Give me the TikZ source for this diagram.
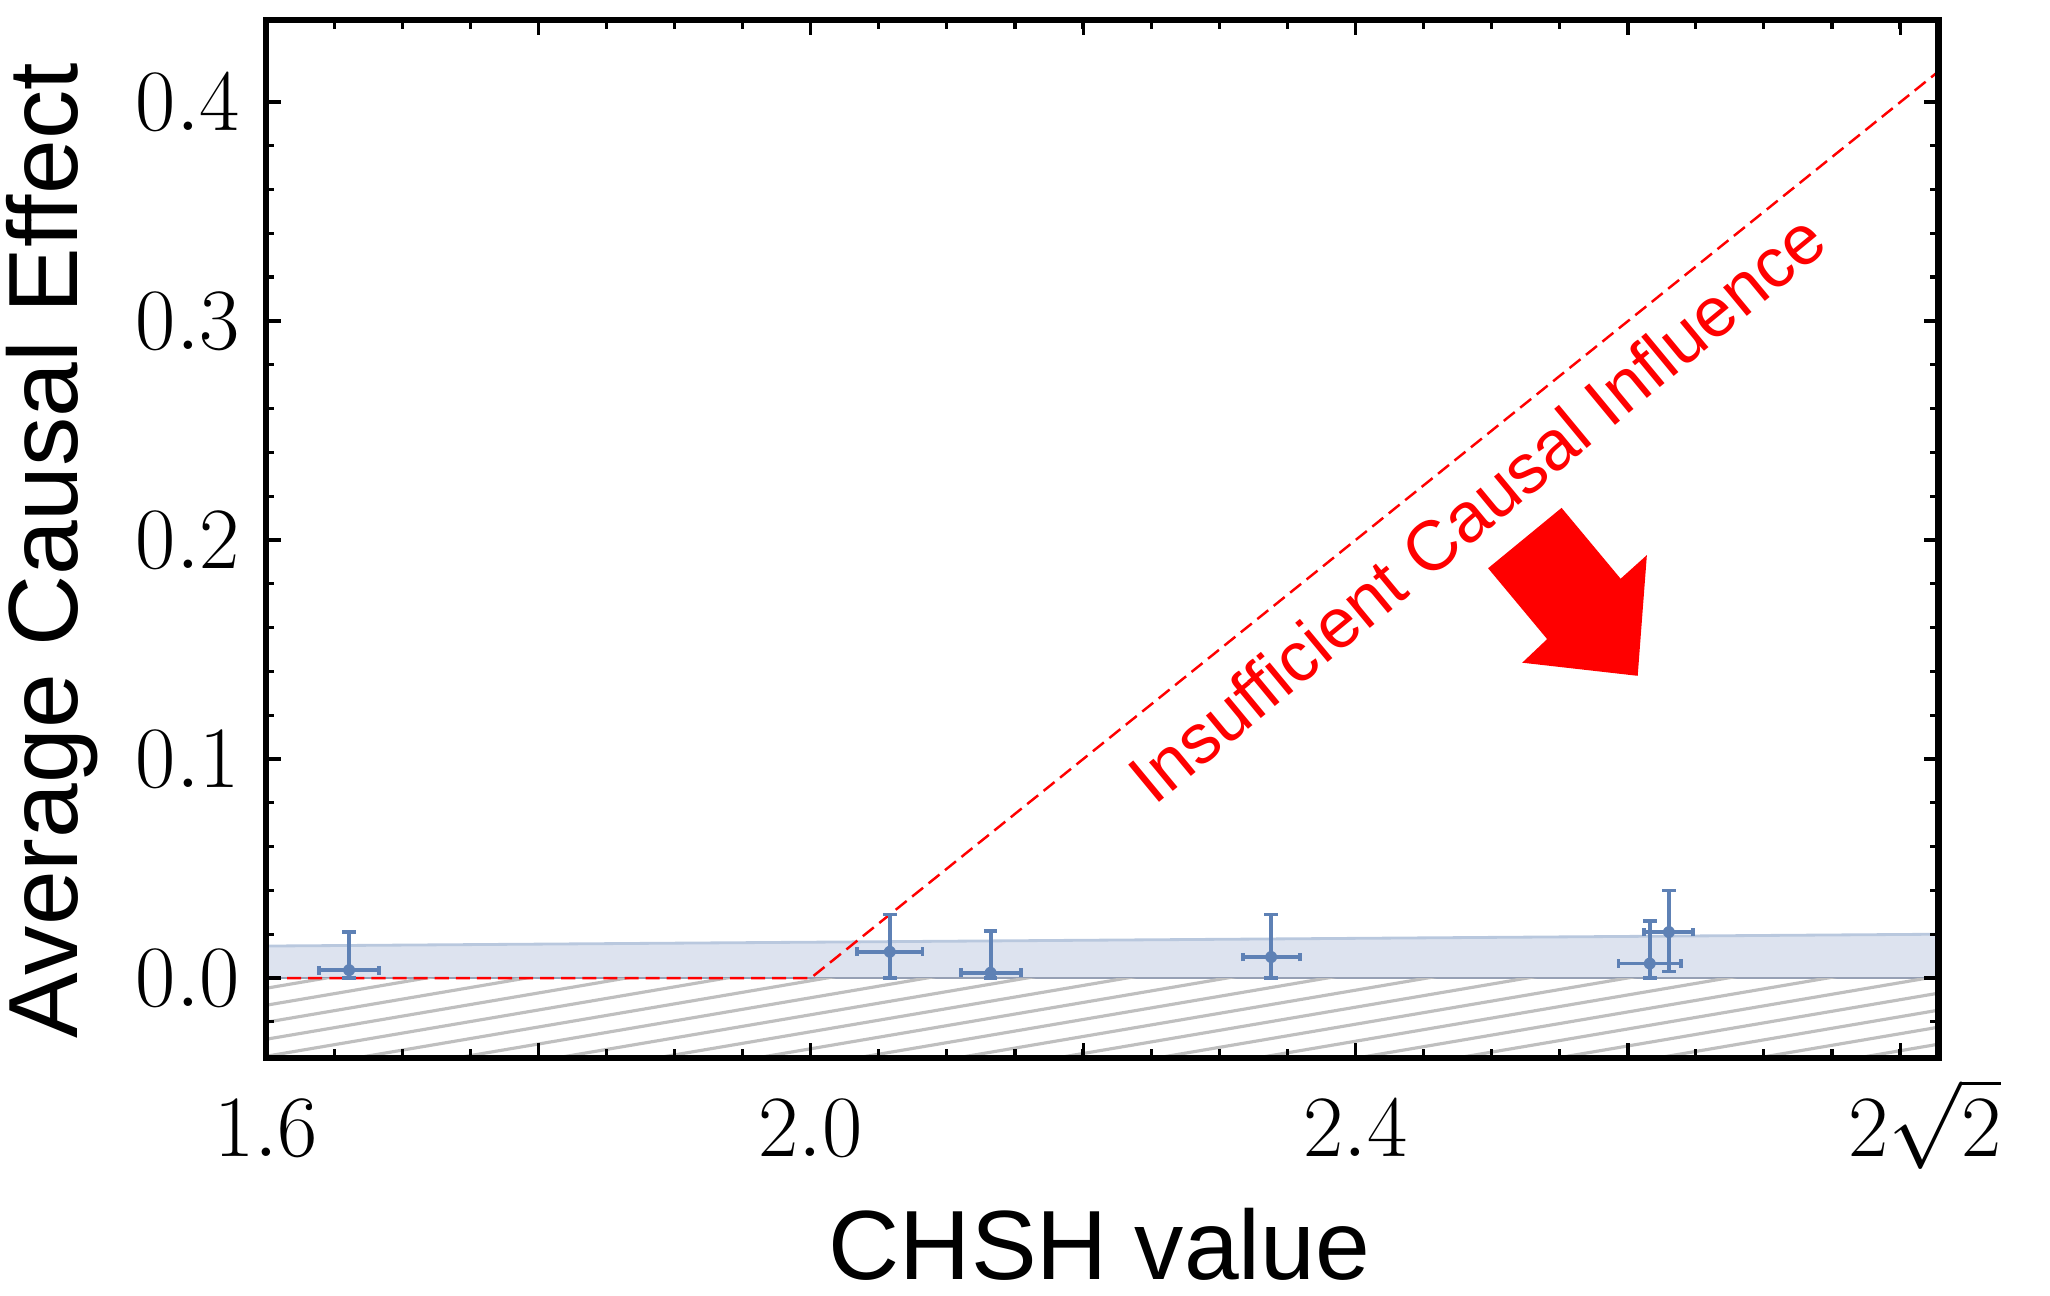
\documentclass[tikz,border=0pt]{standalone}
\usepackage{fontspec}
\setsansfont{Liberation Sans}
\begin{document}
\begin{tikzpicture}[
  errb/.style={draw={rgb,255:red,94;green,129;blue,181}, line width=1.1pt},
  pt/.style={fill={rgb,255:red,94;green,129;blue,181}},
  tick/.style={line width=0.9pt},
  tl/.style={font=\fontsize{26}{30}\selectfont},
  al/.style={font=\sffamily\fontsize{28}{32}\selectfont}]
\useasboundingbox (0,0) rectangle (20.5,-12.95);
\begin{scope}[shift={(-19.132,-9.78)}, x=13.62cm, y=21.9cm]
  % band
  \fill[fill={rgb,255:red,221;green,227;blue,239}] (1.6,0) -- (1.6,0.0146) -- (2.828,0.020) -- (2.828,0) -- cycle;
  \draw[draw={rgb,255:red,185;green,200;blue,222}, line width=0.8pt] (1.6,0.0146) -- (2.828,0.020);
  \draw[draw={rgb,255:red,150;green,160;blue,180}, line width=0.7pt] (1.6,0) -- (2.828,0);
  % hatch
  \begin{scope}
    \clip (1.6,-0.0365) rectangle (2.828,0);
    \foreach \i in {0,...,20} {
      \draw[gray!50, line width=0.9pt] (1.6,{-0.16+\i*0.00776}) -- (2.828,{-0.16+\i*0.00776+0.1057*1.228});
    }
  \end{scope}
  % red dashed line
  \draw[red, line width=0.7pt, dash pattern=on 4pt off 2pt] (1.6,0) -- (2.0,0) -- (2.828,0.414);
  % data
  \foreach \x/\y/\ex/\ylo/\yhi in {1.661/0.0036/0.022/0/0.021, 2.058/0.012/0.024/0/0.029, 2.132/0.0024/0.022/0/0.0216, 2.338/0.0096/0.021/0/0.029, 2.616/0.0066/0.023/0/0.026, 2.630/0.021/0.018/0.003/0.040} {
    \draw[errb] (\x-\ex,\y) -- (\x+\ex,\y);
    \draw[errb] (\x,\ylo) -- (\x,\yhi);
    \draw[errb] (\x-\ex,\y-0.002) -- (\x-\ex,\y+0.002);
    \draw[errb] (\x+\ex,\y-0.002) -- (\x+\ex,\y+0.002);
    \draw[errb] (\x-0.005,\ylo) -- (\x+0.005,\ylo);
    \draw[errb] (\x-0.005,\yhi) -- (\x+0.005,\yhi);
    \fill[pt] (\x,\y) circle (1.7pt);
  }
  % ticks
  \foreach \y in {-0.02,0.0,0.02,...,0.42} {
    \draw[tick] (1.6,\y) -- ++(0.006,0);
    \draw[tick] (2.828,\y) -- ++(-0.006,0);
  }
  \foreach \y in {0,0.1,0.2,0.3,0.4} {
    \draw[tick] (1.6,\y) -- ++(0.011,0);
    \draw[tick] (2.828,\y) -- ++(-0.011,0);
  }
  \foreach \x in {1.6,1.65,...,2.81} {
    \draw[tick] (\x,-0.0365) -- ++(0,0.004);
    \draw[tick] (\x,0.4374) -- ++(0,-0.004);
  }
  \foreach \x in {1.6,1.8,2.0,2.2,2.4,2.6,2.8} {
    \draw[tick] (\x,-0.0365) -- ++(0,0.007);
    \draw[tick] (\x,0.4374) -- ++(0,-0.007);
  }
  % frame
  \draw[line width=1.8pt] (1.6,-0.0365) rectangle (2.828,0.4374);
  % tick labels
  \foreach \y/\t in {0/0.0,0.1/0.1,0.2/0.2,0.3/0.3,0.4/0.4}
    \node[tl, anchor=east] (yl\t) at (1.59,\y) {$\t$};
  \foreach \x/\t in {1.6/1.6,2.0/2.0,2.4/2.4}
    \node[tl, anchor=base] (xl\t) at (\x,-0.0815) {$\t$};
  \node[tl, anchor=base] (xlr) at (2.818,-0.0815) {$2\sqrt{2}$};
\end{scope}
\begin{scope}[x=0.01312cm, y=-0.01312cm]
  \fill[red] (1134,433) -- (1179,487) -- (1160,505) -- (1248,515) -- (1255,423) -- (1235,441) -- (1190,387) -- cycle;
  \node[red, font=\sffamily\fontsize{20}{24}\selectfont, rotate=39.6] (lab) at (1125,387) {Insufficient Causal Influence};
  \node[al] (xlab) at (838,948) {CHSH value};
  \node[al, rotate=90] (ylab) at (40,420) {Average Causal Effect};
\end{scope}
\end{tikzpicture}
\end{document}
